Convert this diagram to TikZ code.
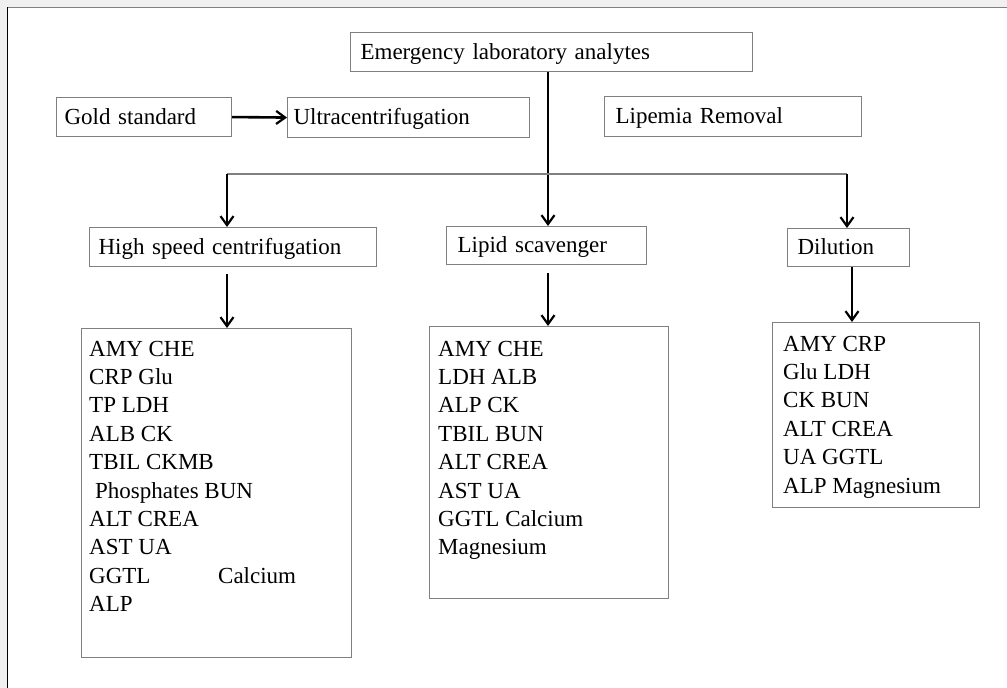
\documentclass[tikz,border=0pt]{standalone}
\usepackage{fontspec}
\setmainfont{Liberation Serif}
\usetikzlibrary{arrows.meta}
\definecolor{boxgray}{RGB}{128,128,128}
\definecolor{bggray}{RGB}{240,240,240}
\tikzset{
  boxst/.style={draw=boxgray, line width=1.1pt, rectangle, anchor=north west,
    inner ysep=0pt, align=left, text height=15pt, text depth=1pt,
    font=\fontsize{23}{28.4}\selectfont},
  listbox/.style={draw=boxgray, line width=1.1pt, rectangle, anchor=north west, inner sep=0pt},
  listtext/.style={anchor=base west, inner sep=0pt, font=\fontsize{23}{28.4}\selectfont},
  arr/.style={-{Straight Barb[length=9pt,width=13pt,line width=2.2pt]}, line width=2.2pt, black},
  thinline/.style={draw=boxgray, line width=1.2pt}
}
\begin{document}
\begin{tikzpicture}[x=1pt,y=-1pt]
\useasboundingbox (0,0) rectangle (1007,688);
\fill[bggray] (0,0) rectangle (1007,688);
\fill[white] (7,7) rectangle (1007,688);
\draw[boxgray, line width=1.5pt] (7,7.5) -- (1007,7.5);
\draw[black, line width=1.6pt] (7.3,7) -- (7.3,688);

% top-level boxes
\node[boxst, minimum width=402pt, minimum height=39pt, inner xsep=10pt, text width=382pt] (emerg) at (350,32) {Emergency laboratory analytes};
\node[boxst, minimum width=175pt, minimum height=39pt, inner xsep=8pt, text width=159pt] (gold) at (56,97) {Gold standard};
\node[boxst, minimum width=242pt, minimum height=40pt, inner xsep=6pt, text width=230pt] (ultra) at (287,97) {Ultracentrifugation};
\node[boxst, minimum width=257pt, minimum height=40pt, inner xsep=11pt, text width=235pt] (lipemia) at (604,96) {Lipemia Removal};

% method boxes
\node[boxst, minimum width=287pt, minimum height=39pt, inner xsep=9pt, text width=269pt] (hsc) at (89,227) {High speed centrifugation};
\node[boxst, minimum width=200pt, minimum height=38pt, inner xsep=11pt, text width=178pt] (lipid) at (446,226) {Lipid scavenger};
\node[boxst, minimum width=122pt, minimum height=38pt, inner xsep=10pt, text width=102pt] (dil) at (787,228) {Dilution};

% list boxes
\node[listbox, minimum width=270pt, minimum height=329pt] (hsclist) at (81,328) {};
\node[listbox, minimum width=239pt, minimum height=272pt] (lipidlist) at (429,326) {};
\node[listbox, minimum width=207pt, minimum height=185pt] (dillist) at (772,322) {};

\node[listtext] (hsctext) at (89,356) {\parbox[t]{250pt}{\raggedright
AMY CHE\\
CRP Glu\\
TP LDH\\
ALB CK\\
TBIL CKMB\\
\hspace*{6pt}Phosphates BUN\\
ALT CREA\\
AST UA\\
\makebox[129pt][l]{GGTL}Calcium\\
ALP}};
\node[listtext] (lipidtext) at (438,356) {\parbox[t]{220pt}{\raggedright
AMY CHE\\
LDH ALB\\
ALP CK\\
TBIL BUN\\
ALT CREA\\
AST UA\\
GGTL Calcium\\
Magnesium}};
\node[listtext] (diltext) at (783,351) {\parbox[t]{190pt}{\raggedright
AMY CRP\\
Glu LDH\\
CK BUN\\
ALT CREA\\
UA GGTL\\
ALP Magnesium}};

% connectors
\coordinate (jl) at (227,174);
\coordinate (jr) at (847,174);
\coordinate (jm) at (548,174);
\draw[arr] (jm |- emerg.south) -- (jm |- lipid.north);
\draw[thinline] (jl) -- (jr);
\draw[arr] (jl) -- (jl |- hsc.north);
\draw[arr] (jr) -- (jr |- dil.north);
\draw[arr, line width=2.6pt] (gold.east) -- (ultra.west);

\coordinate (hs) at (227,274);
\coordinate (ls) at (548,273);
\coordinate (ds) at (852,266);
\draw[arr] (hs) -- (hs |- hsclist.north);
\draw[arr] (ls) -- (ls |- lipidlist.north);
\draw[arr] (ds |- dil.south) -- (ds |- dillist.north);
\end{tikzpicture}
\end{document}
